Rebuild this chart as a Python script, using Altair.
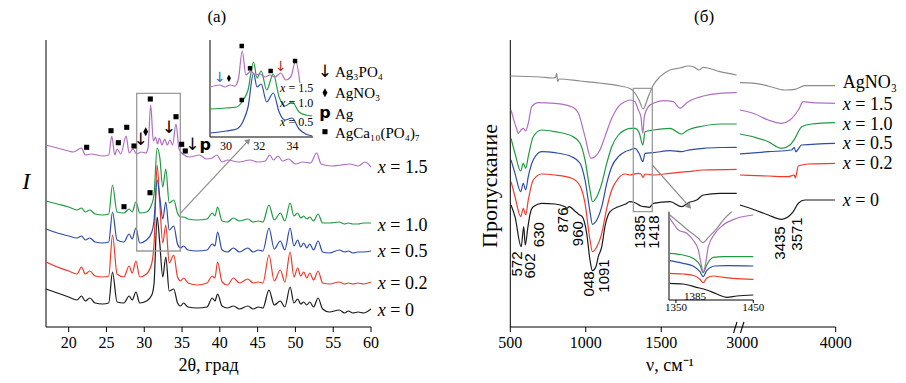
import altair as alt
import pandas as pd

SERIF = "Liberation Serif"
SANS = "Liberation Sans"
SYM = "DejaVu Sans"

series_names = ["x = 0", "x = 0.2", "x = 0.5", "x = 1.0", "x = 1.5", "AgNO3"]
series_colors = ["#1a1a1a", "#ee3b2b", "#2d4ba8", "#1f9a42", "#b06fc0", "#8c8c8c"]
color_scale = alt.Scale(domain=series_names, range=series_colors)

# ================= (а) XRD patterns (arb. units above each baseline) =================
xrd_2theta = [17, 18.5, 20, 21.1, 21.7, 22.2, 22.8, 23.5, 24.5, 25.3,
              25.8, 26.4, 27.3, 28.0, 28.4, 28.9, 29.4, 30.3, 31.0, 31.3,
              31.7, 32.05, 32.45, 32.85, 33.3, 33.9, 34.4, 34.8, 35.2, 35.8,
              37.0, 38.3, 39.0, 39.35, 39.7, 40.3, 41.0, 41.8, 42.6, 43.7,
              44.4, 45.1, 45.7, 46.5, 47.2, 48.0, 48.6, 49.3, 49.8, 50.3,
              50.7, 51.1, 51.5, 51.9, 52.4, 53.0, 53.6, 54.5, 55.8, 56.5,
              57.0, 57.6, 58.3, 59.0, 60]
xrd_x0 = [24, 20, 16, 13, 17, 12, 15, 10, 9, 10,
          41, 11, 10, 17, 13, 21, 10, 12, 18, 30,
          96, 70, 36, 56, 22, 24, 10, 7, 10, 6,
          5, 6, 15, 12, 19, 7, 5, 7, 4, 7,
          4, 6, 5, 23, 8, 12, 6, 26, 10, 14,
          9, 11, 8, 11, 6, 15, 4, 1, 3, 0,
          2, 0, 1, 0, 4]
xrd_x02 = [21, 16, 12, 9, 16, 9, 12, 7, 6, 7,
           48, 9, 6, 17, 10, 22, 6, 9, 20, 40,
           118, 80, 40, 58, 20, 28, 6, 2, 5, 0,
           -2, 0, 7, 5, 21, 1, -2, 5, 0, 4,
           0, 1, 0, 28, 2, 13, 1, 31, 6, 15,
           7, 11, 5, 10, 3, 12, 0, -1, 1, -1,
           0, -1, 0, -1, 1]
xrd_x05 = [23, 19, 16, 14, 16, 12, 14, 10, 9, 10,
           40, 12, 10, 18, 13, 24, 9, 12, 20, 32,
           72, 55, 33, 50, 22, 26, 8, 4, 6, 2,
           1, 2, 8, 6, 20, 2, 0, 4, 0, 4,
           0, 2, 1, 24, 3, 11, 2, 24, 6, 12,
           5, 9, 4, 8, 2, 11, 0, -1, 2, 0,
           1, -1, 0, 0, 1]
xrd_x10 = [23, 20, 17, 14, 16, 12, 14, 10, 9, 10,
           39, 12, 11, 15, 12, 22, 11, 12, 20, 30,
           76, 67, 37, 55, 21, 24, 11, 7, 7, 5,
           4, 5, 11, 8, 17, 3, 2, 6, 3, 5,
           2, 3, 2, 19, 4, 11, 3, 21, 8, 11,
           6, 8, 5, 7, 3, 10, 1, 1, 2, 0,
           1, 0, 0, 1, 1]
xrd_x15_2theta = [17, 18.5, 20, 20.6, 21.7, 22.2, 23.0, 24.5, 25.3, 25.7,
                  26.1, 26.4, 26.9, 27.6, 28.0, 28.5, 29.0, 29.6, 30.2, 30.5,
                  30.85, 31.2, 31.5, 31.75, 32.0, 32.35, 32.7, 33.05, 33.4, 33.75,
                  34.2, 34.6, 35.1, 36.0, 37.3, 38.2, 39.0, 39.6, 40.3, 41.0,
                  42.5, 44.0, 45.0, 46.0, 46.6, 47.1, 47.7, 48.3, 49.1, 50.0,
                  51.0, 52.0, 52.8, 53.4, 54.8, 56.0, 57.2, 58.3, 59.2, 60]
xrd_x15 = [22, 19, 16, 15, 19, 12, 13, 11, 12, 31,
           12, 18, 13, 31, 14, 18, 13, 15, 14, 19,
           62, 26, 30, 23, 29, 22, 28, 22, 27, 22,
           43, 18, 13, 10, 12, 8, 9, 12, 5, 7,
           5, 7, 5, 6, 12, 7, 11, 6, 8, 3,
           5, 4, 14, 3, 1, 2, 3, 1, 5, 0]
xrd_offset = {"x = 0": 14, "x = 0.2": 44, "x = 0.5": 75, "x = 1.0": 103, "x = 1.5": 160}

# inset of (а): 29-35 degrees
ins_2theta = [29.05, 30.0, 30.64, 31.04, 31.33, 31.66, 31.87, 32.12, 32.45, 32.85,
              33.2, 33.55, 33.98, 34.4, 34.8, 35.2]
ins_x05 = [4, 6, 8, 16, 30, 64, 50, 53, 35, 44, 25, 17, 19, 8, 3, 1]
ins_x10 = [28, 29, 30, 37, 47, 75, 59, 66, 47, 63, 40, 31, 35, 25, 22, 21]
ins_x15_2theta = [29.05, 29.64, 29.94, 30.24, 30.54, 30.75, 30.98, 31.2, 31.5, 31.75,
                  32.05, 32.35, 32.65, 32.95, 33.3, 33.6, 33.9, 34.2, 34.45]
ins_x15 = [50, 52, 50, 52, 51, 58, 86, 62, 66, 62, 63, 60, 62, 60, 64, 57, 60, 76, 54]

# ================= (б) IR spectra (arb. units relative to each plateau) =================
ir_agno3_nu = [500, 697, 783, 800, 807, 814, 823, 962, 1094, 1227, 1293, 1326, 1353, 1380,
               1414, 1448, 1492, 1558, 1624, 1680, 1717, 1750, 1779, 1889, 2000]
ir_agno3 = [-1, -2, -3, -2.5, 1.5, -6.5, -4, -6, -8, -11, -13.5, -18, -25, -34,
            -21.7, -10, -1.7, 5, 7, 9, 8, 5, 7.7, 3.3, 0]
ir_agno3_nu_hi = [2975, 3136, 3278, 3457, 3564, 3671, 3992]
ir_agno3_hi = [-7.7, -8.3, -11, -15, -14.3, -10.7, -10.7]

ir_x15_nu = [505, 520, 540, 553, 571, 586, 602, 619, 642, 686,
             796, 907, 951, 995, 1035, 1061, 1094, 1127, 1172, 1216,
             1260, 1293, 1326, 1348, 1365, 1378, 1388, 1414, 1448, 1514,
             1580, 1625, 1669, 1779, 1889, 2000]
ir_x15 = [-17, -25.3, -35, -40.3, -37, -35.3, -38, -30.3, -13.7, -9.7,
          -10.3, -13.7, -20.3, -43.7, -65.3, -63.7, -57, -43.7, -25.3, -13.7,
          -8.7, -7, -8.7, -17, -23.7, -40.3, -23.7, -13.7, -10.3, -7.7,
          -8.7, -15.3, -9.7, -3, -0.3, 0.3]
ir_x15_nu_hi = [2975, 3136, 3278, 3422, 3511, 3600, 3653, 3743, 3992]
ir_x15_hi = [-17, -21, -27, -30.3, -27, -17, -8.7, -9.7, -10.3]

ir_mid_nu = [505, 531, 569, 586, 602, 619, 652, 708, 796, 907,
             962, 995, 1028, 1044, 1073, 1106, 1139, 1172, 1216, 1260,
             1293, 1326, 1355, 1378, 1393, 1448, 1558, 1636, 1669, 1779,
             1889, 2000]
ir_x10 = [-14.3, -29.3, -47, -39.3, -44.3, -32.7, -12.7, -6, -7.7, -12,
          -19.3, -36, -66, -77.7, -72.7, -59.3, -39.3, -22.7, -11, -6,
          -4.3, -4.3, -9.3, -21, -7.7, -6, -4.3, -10, -6.7, -2,
          0, 0]
ir_x10_nu_hi = [2975, 3136, 3278, 3422, 3511, 3564, 3636, 3743, 3992]
ir_x10_hi = [-10, -13.3, -17.7, -24.3, -21, -14.3, -2.7, 0, 1.3]

ir_x05 = [-13, -26.3, -44.7, -36.3, -43, -29.7, -13, -4.7, -5.7, -9.7,
          -16.3, -33, -64.7, -77.3, -73, -59.7, -36.3, -19.7, -9.7, -4.7,
          -3, -1.3, -7, -14.7, -6.3, -5.7, -3.7, -4.7, -3.5, -1.3,
          -0.5, -0.3]
ir_x05_nu_hi = [2975, 3278, 3529, 3557, 3572, 3636, 3992]
ir_x05_hi = [-7, -4.7, -3, -0.3, -4.7, 2, 3.7]

ir_x02_nu = [505, 531, 569, 586, 602, 619, 652, 708, 796, 907,
             962, 995, 1028, 1044, 1073, 1106, 1139, 1172, 1216, 1260,
             1293, 1348, 1365, 1380, 1392, 1448, 1558, 1669, 1779, 2000]
ir_x02 = [-12.7, -27.7, -47.7, -39.3, -46, -31, -11, -5, -6, -9.3,
          -17, -34.3, -71, -82.7, -77.7, -64.3, -39.3, -21, -9.3, -5,
          -6, -4.3, -5, -8.5, -5, -6, -4.3, -2.7, -1, -0.3]
ir_x02_nu_hi = [2975, 3278, 3492, 3557, 3568, 3600, 3707, 3992]
ir_x02_hi = [-6, -7, -7.7, -6, -9, 3, 5, 5.7]

ir_x0_nu = [505, 531, 572, 589, 599, 617, 632, 652, 708, 796,
            862, 876, 889, 933, 960, 977, 1006, 1028, 1044, 1067,
            1083, 1106, 1127, 1161, 1216, 1260, 1293, 1326, 1365, 1392,
            1421, 1448, 1558, 1636, 1680, 1735, 1779, 1889, 2000]
ir_x0 = [-12, -23.7, -53.7, -33.7, -52, -33.7, -20.3, -13.7, -10.3, -11,
         -13.7, -15.3, -13.7, -18.7, -22, -23.7, -40.3, -67, -77.7, -73.7,
         -63.7, -53.7, -33.7, -18.7, -13.7, -11.3, -8.7, -9.7, -13, -13.7,
         -14.3, -10.3, -8.7, -13.7, -9.7, -7, -2, -0.3, -0.3]
ir_x0_nu_hi = [2975, 3136, 3278, 3422, 3492, 3546, 3600, 3671, 3992]
ir_x0_hi = [-12, -17, -22, -26.3, -23.7, -18.7, -10.3, -7, -7]

ir_offset = {"x = 0": 134, "x = 0.2": 158, "x = 0.5": 180, "x = 1.0": 203,
             "x = 1.5": 234, "AgNO3": 252}

# inset of (б): 1341-1450 cm-1
bi_agno3_nu = [1342, 1355, 1368, 1379, 1385, 1392, 1403, 1413, 1422]
bi_agno3 = [85, 76.7, 68.3, 61.7, 57.3, 62.7, 71.7, 81.7, 88.3]
bi_x15_nu = [1342, 1346.5, 1353, 1364, 1372, 1379, 1382.3, 1385.3, 1388.4, 1391.8,
             1400.5, 1411, 1428.5, 1450]
bi_x15 = [81.7, 76.7, 70, 66.7, 60, 50, 36.7, 28.3, 36.7, 53.3, 66.7, 75, 81.7, 85]
bi_x10_nu = [1342, 1359, 1372, 1381, 1385.3, 1389.7, 1398.3, 1411, 1450]
bi_x10 = [46.7, 45, 41.7, 35, 27.3, 35, 42.7, 43.3, 43.3]
bi_x05_nu = [1342, 1359, 1372, 1381, 1385.3, 1389.7, 1400.5, 1415.6, 1450]
bi_x05 = [39.3, 36.7, 34, 28.3, 23.3, 29.3, 34, 34.3, 34]
bi_x02_nu = [1342, 1359, 1374.6, 1381, 1385.3, 1389.7, 1398.3, 1411, 1424, 1450]
bi_x02 = [26.7, 26, 24, 20.7, 17.3, 21.7, 24, 22.7, 21.7, 20.7]
bi_x0_nu = [1342, 1359, 1376.5, 1389.7, 1402.6, 1415.6, 1428.5, 1450]
bi_x0 = [16.7, 16, 12.7, 10, 6, 2.7, 4, 5]

# ---------------- axis ticks ----------------
a_ticks = [20, 25, 30, 35, 40, 45, 50, 55, 60]
ai_ticks = [30, 32, 34]
b_ticks = [500, 1000, 1500, 4000]
b_tick_labels = [500, 1000, 1500, 3000, 4000]
bi_ticks = [1350, 1450]


def frame(xs, ys, name, off=0.0, seg="a"):
    return pd.DataFrame({"x": xs, "y": [v + off for v in ys], "s": name, "seg": name + seg})


xrd_df = pd.concat([
    frame(xrd_2theta, xrd_x0, "x = 0", xrd_offset["x = 0"]),
    frame(xrd_2theta, xrd_x02, "x = 0.2", xrd_offset["x = 0.2"]),
    frame(xrd_2theta, xrd_x05, "x = 0.5", xrd_offset["x = 0.5"]),
    frame(xrd_2theta, xrd_x10, "x = 1.0", xrd_offset["x = 1.0"]),
    frame(xrd_x15_2theta, xrd_x15, "x = 1.5", xrd_offset["x = 1.5"]),
])
ins_df = pd.concat([
    frame(ins_2theta, ins_x05, "x = 0.5"),
    frame(ins_2theta, ins_x10, "x = 1.0"),
    frame(ins_x15_2theta, ins_x15, "x = 1.5"),
])
ir_parts = [
    ("x = 0", ir_x0_nu, ir_x0, ir_x0_nu_hi, ir_x0_hi),
    ("x = 0.2", ir_x02_nu, ir_x02, ir_x02_nu_hi, ir_x02_hi),
    ("x = 0.5", ir_mid_nu, ir_x05, ir_x05_nu_hi, ir_x05_hi),
    ("x = 1.0", ir_mid_nu, ir_x10, ir_x10_nu_hi, ir_x10_hi),
    ("x = 1.5", ir_x15_nu, ir_x15, ir_x15_nu_hi, ir_x15_hi),
    ("AgNO3", ir_agno3_nu, ir_agno3, ir_agno3_nu_hi, ir_agno3_hi),
]
ir_df = pd.concat(
    [frame(a, b, n, ir_offset[n], "lo") for n, a, b, c, d in ir_parts]
    + [frame(c, d, n, ir_offset[n], "hi") for n, a, b, c, d in ir_parts]
)
bi_df = pd.concat([
    frame(bi_x0_nu, bi_x0, "x = 0"),
    frame(bi_x02_nu, bi_x02, "x = 0.2"),
    frame(bi_x05_nu, bi_x05, "x = 0.5"),
    frame(bi_x10_nu, bi_x10, "x = 1.0"),
    frame(bi_x15_nu, bi_x15, "x = 1.5"),
    frame(bi_agno3_nu, bi_agno3, "AgNO3"),
])

# ---------------- annotation tables ----------------
a_sq = pd.DataFrame({"x": [22.38, 25.6, 26.57, 27.68, 28.64, 30.8, 34.2, 34.95, 35.43, 30.76, 27.32, 53.91],
                     "y": [179.7, 196.3, 184.3, 199.7, 181, 228, 210.3, 182.7, 176, 134.3, 120.3, 195.3]})
a_arrow = pd.DataFrame({"x": [29.53, 33.27, 36.35, 53.91], "y": [187, 198.7, 182, 255]})
a_dia = pd.DataFrame({"x": [30.19, 53.91], "y": [195.3, 234.3]})
a_p = pd.DataFrame({"x": [38.05, 53.91], "y": [182, 214.3]})
a_leg = pd.DataFrame({"x": [55.24] * 4, "y": [255, 234.3, 213, 194],
                      "t": ["Ag₃PO₄", "AgNO₃", "Ag", "AgCa₁₀(PO₄)₇"]})
a_lab = pd.DataFrame({"x": [60.89] * 5, "y": [159, 101, 75, 43, 16],
                      "t": ["= 1.5", "= 1.0", "= 0.5", "= 0.2", "= 0"]})
a_rect = pd.DataFrame({"x": [29.0], "x2": [34.77], "y": [76], "y2": [233.7]})
a_conn = pd.DataFrame({"x": [34.77], "x2": [43.77], "y": [113.7], "y2": [186.3]})
a_txt = pd.DataFrame({"x": [39.6, 38.5], "y": [310, -38.5], "t": ["(а)", "2θ, град"], "fs": [17, 18]})
a_ytitle = pd.DataFrame({"x": [14.4], "y": [145], "t": ["I"]})

ai_sq = pd.DataFrame({"x": [30.95, 31.45, 32.69, 34.16, 30.95], "y": [91, 68.7, 66, 76, 37]})
ai_arrow = pd.DataFrame({"x": [29.64, 33.31], "y": [58.7, 70.3], "c": ["#3a6fc4", "#a03028"]})
ai_dia = pd.DataFrame({"x": [30.18], "y": [58.7]})
ai_lab = pd.DataFrame({"x": [33.25] * 3, "y": [48.7, 33.7, 15.3], "t": ["= 1.5", "= 1.0", "= 0.5"]})

b_peak = pd.DataFrame({"x": [542, 630.5, 692, 851, 946.6, 1023.5, 1121, 1359.5, 1452.3, 3404, 3583],
                       "y": [63, 61, 92.3, 107, 93.3, 43, 51, 95, 95, 84, 93],
                       "t": ["572", "602", "630", "876", "960", "048", "1091", "1385", "1418", "3435", "3571"]})
b_lab = pd.DataFrame({"x": [4076] * 5, "y": [222, 202, 182.7, 162.7, 126],
                      "t": ["= 1.5", "= 1.0", "= 0.5", "= 0.2", "= 0"]})
b_agno3 = pd.DataFrame({"x": [4076], "y": [243.7], "t": ["AgNO₃"]})
b_rect = pd.DataFrame({"x": [1315], "x2": [1441], "y": [115.3], "y2": [238.7]})
b_conn = pd.DataFrame({"x": [1441], "x2": [1686], "y": [162], "y2": [120.3]})
b_txt = pd.DataFrame({"x": [1784, 1558], "y": [310, -38.5], "t": ["(б)", "ν, см⁻¹"], "fs": [17, 18]})
b_ytitle = pd.DataFrame({"x": [365], "y": [141], "t": ["Пропускание"]})
b_break = pd.DataFrame({"u": [1979, 2025], "u2": [2002, 2048], "y": [-6, -6], "y2": [5, 5]})
bi_txt = pd.DataFrame({"x": [1374.6], "y": [3.3], "t": ["1385"]})

# ---------------- scales (explicit pixel ranges on one canvas) ----------------
xA = alt.Scale(domain=[17, 60], range=[38, 363], nice=False, zero=False)
yA = alt.Scale(domain=[0, 287], range=[319, 32], nice=False, zero=False)
xAI = alt.Scale(domain=[29.04, 35.24], range=[202, 305], nice=False, zero=False)
yAI = alt.Scale(domain=[0, 97], range=[129, 32], nice=False, zero=False)
xB = alt.Scale(domain=[500, 2656], range=[502.3, 827.7], nice=False, zero=False)
yB = alt.Scale(domain=[0, 287], range=[319, 32], nice=False, zero=False)
xBI = alt.Scale(domain=[1341, 1450], range=[661, 745.3], nice=False, zero=False)
yBI = alt.Scale(domain=[0, 88.3], range=[292, 203.7], nice=False, zero=False)

BREAK = "datum.{f} <= 2000 ? datum.{f} : 2037 + (datum.{f} - 3000) * 0.619"


def brk(ch, *fields):
    return ch.transform_calculate(**{"u_" + f: BREAK.format(f=f) for f in fields})


def X(f, sc):
    return alt.X(f + ":Q", scale=sc, axis=None)


def Y(f, sc):
    return alt.Y(f + ":Q", scale=sc, axis=None)


col = alt.Color("s:N", scale=color_scale, legend=None)


def text_layer(df, xs, ys, xf="x", **kw):
    props = dict(font=SERIF, color="black", baseline="middle")
    props.update(kw)
    ch = alt.Chart(df).mark_text(**props)
    if xf.startswith("u_"):
        ch = brk(ch, xf[2:])
    enc = dict(x=X(xf, xs), y=Y("y", ys))
    if "text" not in kw:
        enc["text"] = "t:N"
    return ch.encode(**enc)


def axis_layers(xs, ys, x0, x1, y0, y1, ticks, tick_len, lab_vals, lab_text, lab_y, lab_size, brk_field=False):
    dom = pd.DataFrame({"x": [x0, x0], "x2": [x1, x0], "y": [y0, y0], "y2": [y0, y1]})
    out = [alt.Chart(dom).mark_rule(color="black", strokeWidth=1).encode(
        x=X("x", xs), x2="x2:Q", y=Y("y", ys), y2="y2:Q")]
    if ticks:
        tk = pd.DataFrame({"x": ticks, "y": [y0] * len(ticks), "y2": [y0 - tick_len] * len(ticks)})
        ch = alt.Chart(tk)
        xf = "x"
        if brk_field:
            ch = brk(ch, "x")
            xf = "u_x"
        out.append(ch.mark_rule(color="black", strokeWidth=1).encode(
            x=X(xf, xs), y=Y("y", ys), y2="y2:Q"))
    lb = pd.DataFrame({"x": lab_vals, "y": [lab_y] * len(lab_vals), "t": lab_text})
    out.append(text_layer(lb, xs, ys, xf="u_x" if brk_field else "x", fontSize=lab_size, align="center"))
    return out


LINE = dict(strokeWidth=1.2, interpolate="monotone")

# ---------------- panel (а) main ----------------
A_axes = axis_layers(xA, yA, 17, 60, 0, 287, a_ticks, 5, a_ticks, [str(v) for v in a_ticks], -16, 16)
A_lines = alt.Chart(xrd_df).mark_line(**LINE).encode(
    x=X("x", xA), y=Y("y", yA), color=col, detail="seg:N")
A_sq = alt.Chart(a_sq).mark_square(size=26, color="black", opacity=1).encode(x=X("x", xA), y=Y("y", yA))
A_arrow = text_layer(a_arrow, xA, yA, text="↓", font=SYM, fontSize=17, align="center")
A_dia = alt.Chart(a_dia).mark_point(shape="M0,-1L0.55,0L0,1L-0.55,0Z", filled=True, size=80,
                                    color="black", opacity=1).encode(x=X("x", xA), y=Y("y", yA))
A_p = text_layer(a_p, xA, yA, text="p", font=SYM, fontWeight="bold", fontSize=16, align="center")
A_leg = text_layer(a_leg, xA, yA, fontSize=15, align="left")
A_lab1 = text_layer(a_lab, xA, yA, text="x", fontStyle="italic", fontSize=18, align="left")
A_lab2 = text_layer(a_lab, xA, yA, fontSize=18, align="left", dx=12.5)
A_rect = alt.Chart(a_rect).mark_rect(fillOpacity=0, stroke="#9a9a9a", strokeWidth=1.3).encode(
    x=X("x", xA), x2="x2:Q", y=Y("y", yA), y2="y2:Q")
A_conn = alt.Chart(a_conn).mark_rule(color="#8c8c8c", strokeWidth=1.2).encode(
    x=X("x", xA), x2="x2:Q", y=Y("y", yA), y2="y2:Q")
A_head = alt.Chart(a_conn).mark_point(shape="triangle-up", angle=43, filled=True, size=40,
                                      color="#8c8c8c", opacity=1).encode(x=X("x2", xA), y=Y("y2", yA))
A_txt = alt.Chart(a_txt).mark_text(font=SERIF, color="black", baseline="middle", align="center").encode(
    x=X("x", xA), y=Y("y", yA), text="t:N", size=alt.Size("fs:Q", scale=None))
A_ytitle = text_layer(a_ytitle, xA, yA, fontStyle="italic", fontSize=24, align="center")

groupA = alt.layer(*A_axes, A_lines, A_rect, A_conn, A_head, A_sq, A_arrow, A_dia, A_p, A_leg,
                   A_lab1, A_lab2, A_txt, A_ytitle)

# ---------------- panel (а) inset ----------------
AI_axes = axis_layers(xAI, yAI, 29.04, 35.24, 0, 97, None, 0, ai_ticks, [str(v) for v in ai_ticks], -9, 12)
AI_lines = alt.Chart(ins_df).mark_line(**LINE).encode(
    x=X("x", xAI), y=Y("y", yAI), color=col, detail="seg:N")
AI_sq = alt.Chart(ai_sq).mark_square(size=20, color="black", opacity=1).encode(x=X("x", xAI), y=Y("y", yAI))
AI_arrow = alt.Chart(ai_arrow).mark_text(text="↓", font=SYM, fontSize=14, baseline="middle").encode(
    x=X("x", xAI), y=Y("y", yAI), color=alt.Color("c:N", scale=None))
AI_dia = alt.Chart(ai_dia).mark_point(shape="M0,-1L0.55,0L0,1L-0.55,0Z", filled=True, size=55,
                                      color="black", opacity=1).encode(x=X("x", xAI), y=Y("y", yAI))
AI_lab1 = text_layer(ai_lab, xAI, yAI, text="x", fontStyle="italic", fontSize=12, align="left")
AI_lab2 = text_layer(ai_lab, xAI, yAI, fontSize=12, align="left", dx=8.5)
groupAI = alt.layer(*AI_axes, AI_lines, AI_sq, AI_arrow, AI_dia, AI_lab1, AI_lab2)

# ---------------- panel (б) main ----------------
B_axes = axis_layers(xB, yB, 500, 2656, 0, 287, b_ticks, 5, b_tick_labels,
                     [str(v) for v in b_tick_labels], -16, 16, brk_field=True)
B_lines = brk(alt.Chart(ir_df), "x").mark_line(**LINE).encode(
    x=X("u_x", xB), y=Y("y", yB), color=col, detail="seg:N")
B_break = alt.Chart(b_break).mark_rule(color="black", strokeWidth=1.1).encode(
    x=X("u", xB), x2="u2:Q", y=Y("y", yB), y2="y2:Q")
B_peak = text_layer(b_peak, xB, yB, xf="u_x", font=SANS, fontSize=15, angle=270, align="center")
B_lab1 = text_layer(b_lab, xB, yB, xf="u_x", text="x", fontStyle="italic", fontSize=18, align="left")
B_lab2 = text_layer(b_lab, xB, yB, xf="u_x", fontSize=18, align="left", dx=12.5)
B_agno3 = text_layer(b_agno3, xB, yB, xf="u_x", fontSize=18, align="left")
B_rect = alt.Chart(b_rect).mark_rect(fillOpacity=0, stroke="#9a9a9a", strokeWidth=1.3).encode(
    x=X("x", xB), x2="x2:Q", y=Y("y", yB), y2="y2:Q")
B_conn = alt.Chart(b_conn).mark_rule(color="#8c8c8c", strokeWidth=1.2).encode(
    x=X("x", xB), x2="x2:Q", y=Y("y", yB), y2="y2:Q")
B_head = alt.Chart(b_conn).mark_point(shape="triangle-up", angle=138, filled=True, size=40,
                                      color="#8c8c8c", opacity=1).encode(x=X("x2", xB), y=Y("y2", yB))
B_txt = alt.Chart(b_txt).mark_text(font=SERIF, color="black", baseline="middle", align="center").encode(
    x=X("x", xB), y=Y("y", yB), text="t:N", size=alt.Size("fs:Q", scale=None))
B_ytitle = text_layer(b_ytitle, xB, yB, fontSize=22, angle=270, align="center")
groupB = alt.layer(*B_axes, B_lines, B_break, B_rect, B_conn, B_head, B_peak, B_lab1, B_lab2,
                   B_agno3, B_txt, B_ytitle)

# ---------------- panel (б) inset ----------------
BI_axes = axis_layers(xBI, yBI, 1341, 1450, 0, 88.3, bi_ticks, 3, bi_ticks,
                      [str(v) for v in bi_ticks], -8.3, 11)
BI_lines = alt.Chart(bi_df).mark_line(**LINE).encode(
    x=X("x", xBI), y=Y("y", yBI), color=col, detail="seg:N")
BI_txt = text_layer(bi_txt, xBI, yBI, fontSize=11, align="center")
groupBI = alt.layer(*BI_axes, BI_lines, BI_txt)

chart = alt.layer(groupA, groupAI, groupB, groupBI).resolve_scale(
    x="independent", y="independent"
).properties(
    width=890, height=367, padding=0, autosize=alt.AutoSizeParams(type="none")
).configure_view(stroke=None)

chart.save("out.html", embed_options={"renderer": "svg", "actions": False})
